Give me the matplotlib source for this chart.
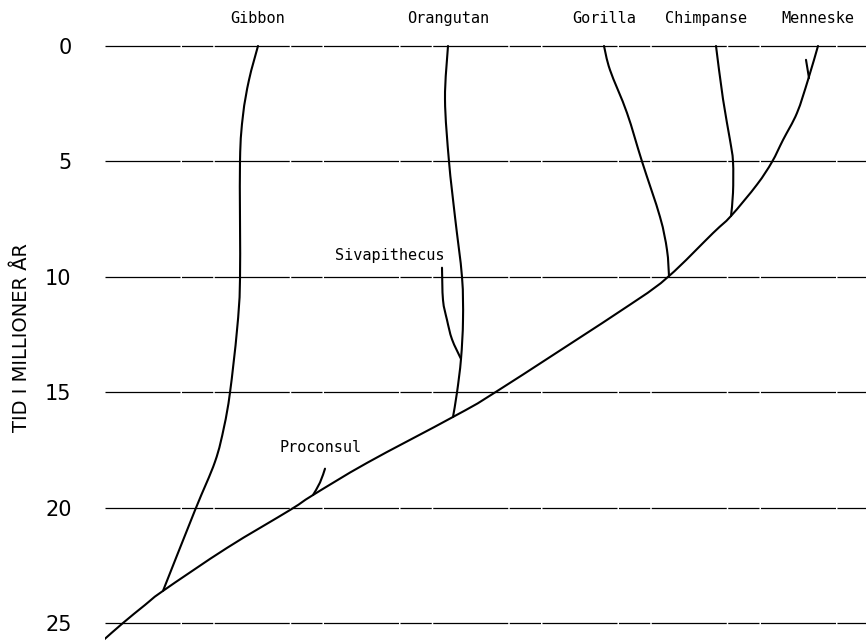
import matplotlib.pyplot as plt
from matplotlib.path import Path
from matplotlib.patches import PathPatch

# time levels (million years) for the horizontal guide lines
levels = [0, 5, 10, 15, 20, 25]
level_labels = ["0", "5", "10", "15", "20", "25"]

species = ["Gibbon", "Orangutan", "Gorilla", "Chimpanse", "Menneske"]
species_x = [258, 448, 604, 706, 818]

# branches: lateral position (drawing units) and time (million years ago)
trunk_x = [818, 808, 797, 783, 772, 757, 731, 713, 669, 630, 495, 453, 367, 313, 290, 227, 163, 145, 123, 104]
trunk_t = [0, 1.47, 2.9, 4.07, 5.02, 6.0, 7.36, 8.1, 9.96, 11.2, 15.0, 16.06, 18.05, 19.44, 20.09, 21.73, 23.59, 24.2, 24.98, 25.7]

gibbon_x = [258, 249, 243, 240, 240, 237, 230, 224, 215, 195, 163]
gibbon_t = [0, 1.47, 3.0, 5.0, 10.1, 12.3, 15.0, 16.5, 18.0, 20.1, 23.59]

orang_x = [448, 445, 449, 455, 462, 463, 461, 457, 453]
orang_t = [0, 2.3, 5.0, 7.4, 10.0, 11.86, 13.55, 15.0, 16.06]

siva_x = [442, 443, 447, 452, 461]
siva_t = [9.6, 11.0, 11.86, 12.7, 13.55]

gorilla_x = [604, 610, 627, 642, 660, 667, 669]
gorilla_t = [0, 1.04, 2.9, 5.0, 7.4, 8.83, 9.96]

chimp_x = [716, 723, 730, 733, 733, 731]
chimp_t = [0, 2.3, 4.07, 5.0, 6.36, 7.36]

human_stub_x = [806, 809]
human_stub_t = [0.6, 1.39]

procon_x = [325, 320, 313]
procon_t = [18.3, 18.9, 19.44]


def smooth_path(ax, xs, ts):
    # draw a smooth curve through the points in display space (Catmull-Rom as bezier)
    pts = ax.transData.transform(list(zip(xs, ts)))
    verts = [tuple(pts[0])]
    codes = [Path.MOVETO]
    n = len(pts)
    for i in range(n - 1):
        p0 = pts[i - 1] if i > 0 else pts[i]
        p1 = pts[i]
        p2 = pts[i + 1]
        p3 = pts[i + 2] if i + 2 < n else pts[i + 1]
        c1 = p1 + (p2 - p0) / 6.0
        c2 = p2 - (p3 - p1) / 6.0
        verts += [tuple(c1), tuple(c2), tuple(p2)]
        codes += [Path.CURVE4] * 3
    path = Path(verts, codes)
    ax.add_patch(PathPatch(path, transform=None, facecolor="none", edgecolor="black",
                           lw=1.5, capstyle="round", joinstyle="round"))


fig = plt.figure(figsize=(8.66, 6.41), dpi=100)
ax = fig.add_axes([105 / 866, 0, 1 - 105 / 866, 1])
ax.set_xlim(105, 866)
ax.set_ylim(25.76, -1.99)

for lv in levels:
    ax.axhline(lv, color="black", lw=0.9, dashes=(60, 1.2, 25, 1.2))

for xs, ts in [(trunk_x, trunk_t), (gibbon_x, gibbon_t), (orang_x, orang_t),
               (siva_x, siva_t), (gorilla_x, gorilla_t), (chimp_x, chimp_t),
               (human_stub_x, human_stub_t), (procon_x, procon_t)]:
    smooth_path(ax, xs, ts)

for name, xp in zip(species, species_x):
    ax.text(xp, -1.21, name, ha="center", va="center", family="DejaVu Sans Mono",
            fontsize=11, clip_on=False)

ax.text(390, 9.05, "Sivapithecus", ha="center", va="center", family="DejaVu Sans Mono", fontsize=11)
ax.text(321, 17.4, "Proconsul", ha="center", va="center", family="DejaVu Sans Mono", fontsize=11)

ax.set_yticks(levels)
ax.set_yticklabels(level_labels, fontsize=15, color="black")
ax.tick_params(axis="y", length=0, pad=24)
ax.set_xticks([])
for s in ax.spines.values():
    s.set_visible(False)

fig.text(22 / 866, 1 - 338 / 641, "TID I MILLIONER ÅR", rotation=90, ha="center", va="center",
         fontsize=14, color="black")

fig.savefig("out.png", dpi=100)
